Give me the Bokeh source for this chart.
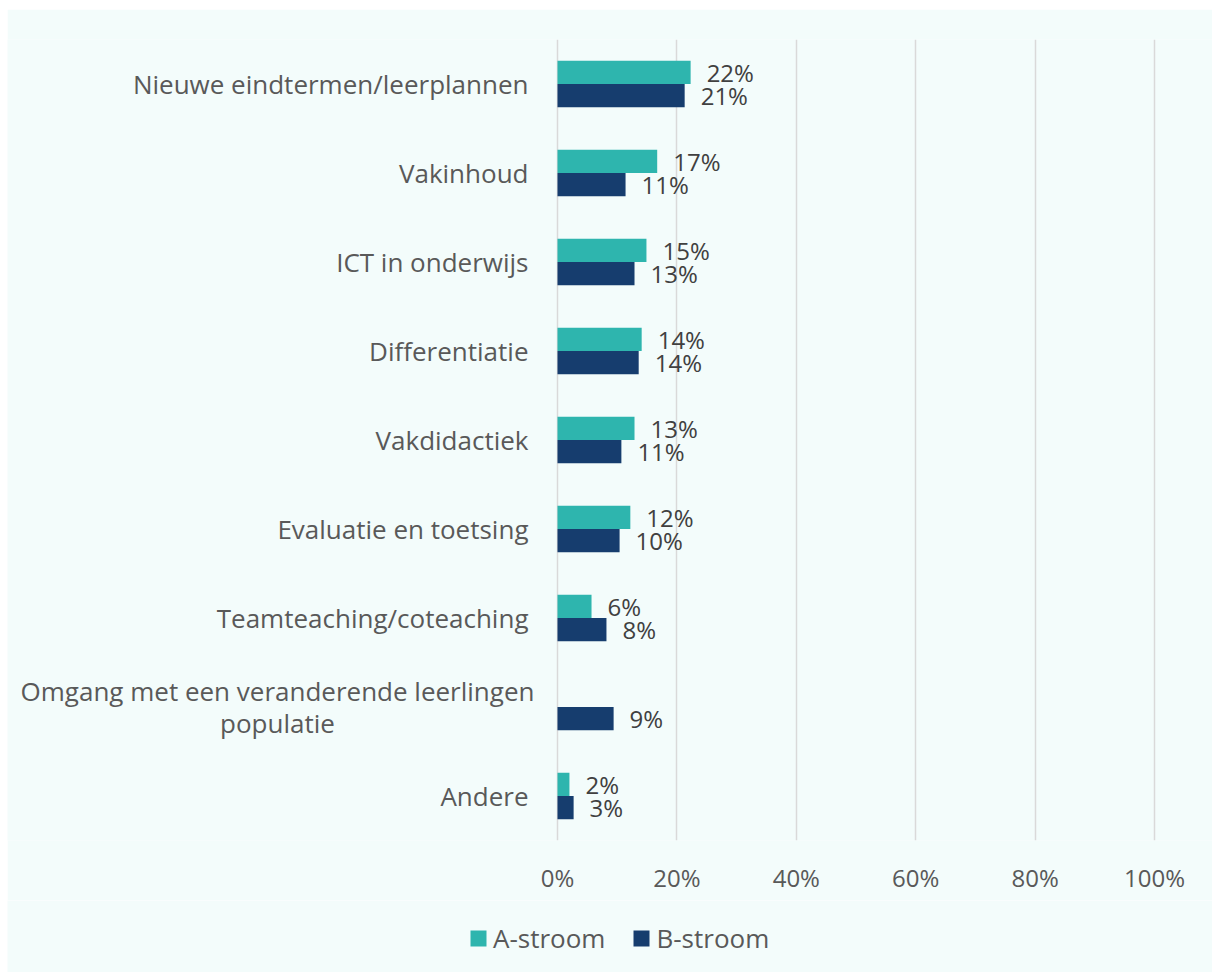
from bokeh.plotting import figure
from bokeh.layouts import column, row
from bokeh.models import (FactorRange, Range1d, FixedTicker, NumeralTickFormatter,
                          Legend, LegendItem, ColumnDataSource, Spacer)
from bokeh.transform import dodge
from bokeh.core.properties import value
from bokeh.embed import file_html
from bokeh.resources import INLINE

categories = [
    "Nieuwe eindtermen/leerplannen",
    "Vakinhoud",
    "ICT in onderwijs",
    "Differentiatie",
    "Vakdidactiek",
    "Evaluatie en toetsing",
    "Teamteaching/coteaching",
    "Omgang met een veranderende leerlingen\npopulatie",
    "Andere",
]
a_stroom = [22.3, 16.7, 14.9, 14.1, 12.9, 12.2, 5.7, None, 2.0]
b_stroom = [21.3, 11.4, 12.9, 13.6, 10.7, 10.4, 8.2, 9.4, 2.7]
series_names = ["A-stroom", "B-stroom"]
x_ticks = [0, 20, 40, 60, 80, 100]

TEAL = "#2EB5AE"
NAVY = "#163D6E"
BG = "#F3FCFB"
FONT = "Open Sans"
W = 1205
LEFT_PX = 550      # room for the category labels, left of the 0% line
PLOT_PX = 597      # pixels from 0% to 100%


def make_source(vals):
    cats, xs, labels = [], [], []
    for c, v in zip(categories, vals):
        if v is None:
            continue
        cats.append(c)
        xs.append(v / 100.0)
        labels.append(f"{round(v)}%")
    return ColumnDataSource(dict(cat=cats, x=xs, label=labels))


src_a = make_source(a_stroom)
src_b = make_source(b_stroom)

p = figure(
    width=W, height=891,
    y_range=FactorRange(*reversed(categories)),
    x_range=Range1d(-LEFT_PX / PLOT_PX, (W - LEFT_PX) / PLOT_PX),
    y_axis_location=None,
    output_backend="svg", toolbar_location=None,
    min_border_left=0, min_border_right=0,
    min_border_top=30, min_border_bottom=60,
)
p.background_fill_color = BG
p.border_fill_color = BG
p.outline_line_color = None

bh = 0.26
ra = p.hbar(y=dodge("cat", bh / 2, range=p.y_range), right="x", left=0, height=bh,
            source=src_a, fill_color=TEAL, line_color=None)
rb = p.hbar(y=dodge("cat", -bh / 2, range=p.y_range), right="x", left=0, height=bh,
            source=src_b, fill_color=NAVY, line_color=None)

for src, off in ((src_a, bh / 2), (src_b, -bh / 2)):
    p.text(x="x", y=dodge("cat", off, range=p.y_range), text="label", source=src,
           x_offset=16, text_baseline="middle", text_align="left",
           text_font=value(FONT), text_font_size="24px", text_color="#404040")

# category labels (single-line ones right-aligned, two-line one centred)
single = [c for c in categories if "\n" not in c]
multi = [c for c in categories if "\n" in c]
p.text(x=[0] * len(single), y=single, text=single, x_offset=-29,
       text_align="right", text_baseline="middle",
       text_font=value(FONT), text_font_size="26px", text_color="#595959")
p.text(x=[0] * len(multi), y=multi, text=multi, x_offset=-280,
       text_align="center", text_baseline="middle", text_line_height=0.9,
       text_font=value(FONT), text_font_size="26px", text_color="#595959")

# x axis
p.xaxis.ticker = FixedTicker(ticks=[t / 100 for t in x_ticks])
p.xaxis.formatter = NumeralTickFormatter(format="0%")
p.xaxis.axis_line_color = None
p.xaxis.major_tick_line_color = None
p.xaxis.minor_tick_line_color = None
p.xaxis.major_label_standoff = 14
p.xaxis.major_label_text_font = FONT
p.xaxis.major_label_text_font_size = "24px"
p.xaxis.major_label_text_color = "#595959"

p.ygrid.grid_line_color = None
p.xgrid.grid_line_color = "#D9D9D9"
p.xgrid.grid_line_width = 1.5

# legend strip below the chart
lg = figure(width=W, height=72, x_range=Range1d(0, 1), y_range=Range1d(0, 1),
            x_axis_type=None, y_axis_type=None, min_border=0,
            output_backend="svg", toolbar_location=None)
lg.background_fill_color = BG
lg.border_fill_color = BG
lg.outline_line_color = None
lg.xgrid.visible = False
lg.ygrid.visible = False
la = lg.hbar(y=[0.5], left=[0], right=[0], height=0.5, fill_color=TEAL, line_color=None)
lb = lg.hbar(y=[0.5], left=[0], right=[0], height=0.5, fill_color=NAVY, line_color=None)

legend = Legend(
    items=[LegendItem(label=series_names[0], renderers=[la]),
           LegendItem(label=series_names[1], renderers=[lb])],
    orientation="horizontal", location=(461, 16),
    glyph_width=20, glyph_height=20, label_standoff=5, spacing=26,
    padding=0, margin=0, background_fill_alpha=0, border_line_color=None,
    label_text_font=FONT, label_text_font_size="26px", label_text_color="#595959",
)
lg.add_layout(legend, "center")

layout = column(Spacer(height=9),
                row(Spacer(width=7), column(p, lg, spacing=0), spacing=0),
                spacing=0)
open("out.html", "w").write(file_html(layout, INLINE))
